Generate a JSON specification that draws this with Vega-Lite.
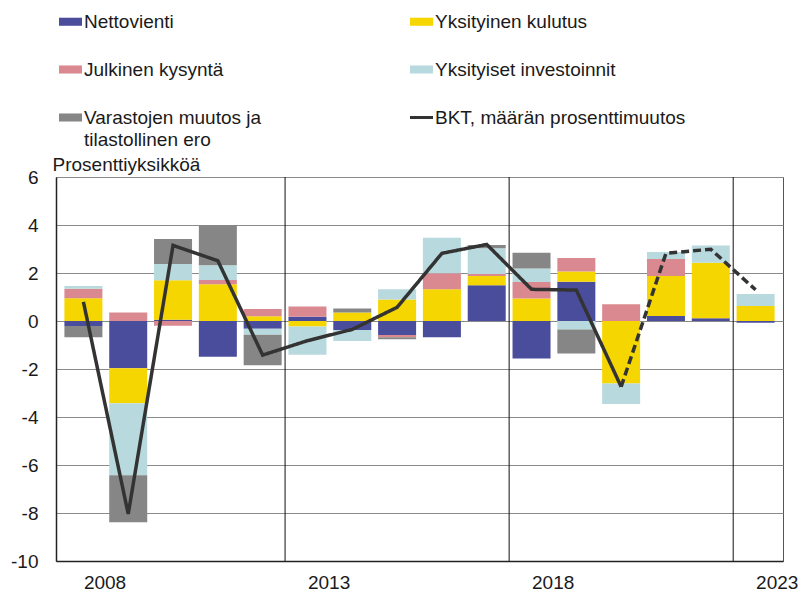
{
  "$schema": "https://vega.github.io/schema/vega-lite/v6.json",
  "width": 727,
  "height": 384,
  "autosize": {"type": "none"},
  "padding": {"left": 56, "top": 177, "right": 22, "bottom": 30},
  "config": {
    "font": "Liberation Sans",
    "view": {"stroke": "#555555", "strokeWidth": 1},
    "axis": {"labelFont": "Liberation Sans", "titleFont": "Liberation Sans", "labelColor": "#1a1a1a", "titleColor": "#1a1a1a"},
    "legend": {"labelFont": "Liberation Sans", "labelColor": "#1a1a1a"}
  },
  "datasets": {
    "osat": [
      {"v": 2008, "s": "Nettovienti", "k": 1, "a": -0.21},
      {"v": 2008, "s": "Yksityinen kulutus", "k": 2, "a": 0.95},
      {"v": 2008, "s": "Julkinen kysyntä", "k": 3, "a": 0.39},
      {"v": 2008, "s": "Yksityiset investoinnit", "k": 4, "a": 0.12},
      {"v": 2008, "s": "Varastojen muutos ja tilastollinen ero", "k": 5, "a": -0.47},
      {"v": 2009, "s": "Nettovienti", "k": 1, "a": -1.97},
      {"v": 2009, "s": "Yksityinen kulutus", "k": 2, "a": -1.46},
      {"v": 2009, "s": "Julkinen kysyntä", "k": 3, "a": 0.35},
      {"v": 2009, "s": "Yksityiset investoinnit", "k": 4, "a": -3.0},
      {"v": 2009, "s": "Varastojen muutos ja tilastollinen ero", "k": 5, "a": -1.96},
      {"v": 2010, "s": "Nettovienti", "k": 1, "a": 0.05},
      {"v": 2010, "s": "Yksityinen kulutus", "k": 2, "a": 1.65},
      {"v": 2010, "s": "Julkinen kysyntä", "k": 3, "a": -0.2},
      {"v": 2010, "s": "Yksityiset investoinnit", "k": 4, "a": 0.67},
      {"v": 2010, "s": "Varastojen muutos ja tilastollinen ero", "k": 5, "a": 1.05},
      {"v": 2011, "s": "Nettovienti", "k": 1, "a": -1.49},
      {"v": 2011, "s": "Yksityinen kulutus", "k": 2, "a": 1.53},
      {"v": 2011, "s": "Julkinen kysyntä", "k": 3, "a": 0.18},
      {"v": 2011, "s": "Yksityiset investoinnit", "k": 4, "a": 0.61},
      {"v": 2011, "s": "Varastojen muutos ja tilastollinen ero", "k": 5, "a": 1.68},
      {"v": 2012, "s": "Nettovienti", "k": 1, "a": -0.32},
      {"v": 2012, "s": "Yksityinen kulutus", "k": 2, "a": 0.2},
      {"v": 2012, "s": "Julkinen kysyntä", "k": 3, "a": 0.3},
      {"v": 2012, "s": "Yksityiset investoinnit", "k": 4, "a": -0.25},
      {"v": 2012, "s": "Varastojen muutos ja tilastollinen ero", "k": 5, "a": -1.27},
      {"v": 2013, "s": "Nettovienti", "k": 1, "a": 0.18},
      {"v": 2013, "s": "Yksityinen kulutus", "k": 2, "a": -0.23},
      {"v": 2013, "s": "Julkinen kysyntä", "k": 3, "a": 0.42},
      {"v": 2013, "s": "Yksityiset investoinnit", "k": 4, "a": -1.18},
      {"v": 2014, "s": "Nettovienti", "k": 1, "a": -0.37},
      {"v": 2014, "s": "Yksityinen kulutus", "k": 2, "a": 0.35},
      {"v": 2014, "s": "Yksityiset investoinnit", "k": 4, "a": -0.46},
      {"v": 2014, "s": "Varastojen muutos ja tilastollinen ero", "k": 5, "a": 0.17},
      {"v": 2015, "s": "Nettovienti", "k": 1, "a": -0.58},
      {"v": 2015, "s": "Yksityinen kulutus", "k": 2, "a": 0.9},
      {"v": 2015, "s": "Julkinen kysyntä", "k": 3, "a": -0.1},
      {"v": 2015, "s": "Yksityiset investoinnit", "k": 4, "a": 0.42},
      {"v": 2015, "s": "Varastojen muutos ja tilastollinen ero", "k": 5, "a": -0.08},
      {"v": 2016, "s": "Nettovienti", "k": 1, "a": -0.68},
      {"v": 2016, "s": "Yksityinen kulutus", "k": 2, "a": 1.32},
      {"v": 2016, "s": "Julkinen kysyntä", "k": 3, "a": 0.67},
      {"v": 2016, "s": "Yksityiset investoinnit", "k": 4, "a": 1.48},
      {"v": 2017, "s": "Nettovienti", "k": 1, "a": 1.49},
      {"v": 2017, "s": "Yksityinen kulutus", "k": 2, "a": 0.39},
      {"v": 2017, "s": "Julkinen kysyntä", "k": 3, "a": 0.08},
      {"v": 2017, "s": "Yksityiset investoinnit", "k": 4, "a": 1.07},
      {"v": 2017, "s": "Varastojen muutos ja tilastollinen ero", "k": 5, "a": 0.14},
      {"v": 2018, "s": "Nettovienti", "k": 1, "a": -1.56},
      {"v": 2018, "s": "Yksityinen kulutus", "k": 2, "a": 0.94},
      {"v": 2018, "s": "Julkinen kysyntä", "k": 3, "a": 0.69},
      {"v": 2018, "s": "Yksityiset investoinnit", "k": 4, "a": 0.56},
      {"v": 2018, "s": "Varastojen muutos ja tilastollinen ero", "k": 5, "a": 0.65},
      {"v": 2019, "s": "Nettovienti", "k": 1, "a": 1.64},
      {"v": 2019, "s": "Yksityinen kulutus", "k": 2, "a": 0.42},
      {"v": 2019, "s": "Julkinen kysyntä", "k": 3, "a": 0.56},
      {"v": 2019, "s": "Yksityiset investoinnit", "k": 4, "a": -0.35},
      {"v": 2019, "s": "Varastojen muutos ja tilastollinen ero", "k": 5, "a": -1.0},
      {"v": 2020, "s": "Yksityinen kulutus", "k": 2, "a": -2.6},
      {"v": 2020, "s": "Julkinen kysyntä", "k": 3, "a": 0.7},
      {"v": 2020, "s": "Yksityiset investoinnit", "k": 4, "a": -0.86},
      {"v": 2021, "s": "Nettovienti", "k": 1, "a": 0.21},
      {"v": 2021, "s": "Yksityinen kulutus", "k": 2, "a": 1.67},
      {"v": 2021, "s": "Julkinen kysyntä", "k": 3, "a": 0.7},
      {"v": 2021, "s": "Yksityiset investoinnit", "k": 4, "a": 0.29},
      {"v": 2022, "s": "Nettovienti", "k": 1, "a": 0.11},
      {"v": 2022, "s": "Yksityinen kulutus", "k": 2, "a": 2.32},
      {"v": 2022, "s": "Yksityiset investoinnit", "k": 4, "a": 0.72},
      {"v": 2023, "s": "Nettovienti", "k": 1, "a": -0.07},
      {"v": 2023, "s": "Yksityinen kulutus", "k": 2, "a": 0.62},
      {"v": 2023, "s": "Yksityiset investoinnit", "k": 4, "a": 0.51}
    ],
    "bkt": [
      {"v": 2008, "b": 0.8, "osa": "toteutunut", "sarja": "BKT, määrän prosenttimuutos"},
      {"v": 2009, "b": -8.04, "osa": "toteutunut", "sarja": "BKT, määrän prosenttimuutos"},
      {"v": 2010, "b": 3.15, "osa": "toteutunut", "sarja": "BKT, määrän prosenttimuutos"},
      {"v": 2011, "b": 2.51, "osa": "toteutunut", "sarja": "BKT, määrän prosenttimuutos"},
      {"v": 2012, "b": -1.42, "osa": "toteutunut", "sarja": "BKT, määrän prosenttimuutos"},
      {"v": 2013, "b": -0.82, "osa": "toteutunut", "sarja": "BKT, määrän prosenttimuutos"},
      {"v": 2014, "b": -0.35, "osa": "toteutunut", "sarja": "BKT, määrän prosenttimuutos"},
      {"v": 2015, "b": 0.57, "osa": "toteutunut", "sarja": "BKT, määrän prosenttimuutos"},
      {"v": 2016, "b": 2.82, "osa": "toteutunut", "sarja": "BKT, määrän prosenttimuutos"},
      {"v": 2017, "b": 3.19, "osa": "toteutunut", "sarja": "BKT, määrän prosenttimuutos"},
      {"v": 2018, "b": 1.32, "osa": "toteutunut", "sarja": "BKT, määrän prosenttimuutos"},
      {"v": 2019, "b": 1.29, "osa": "toteutunut", "sarja": "BKT, määrän prosenttimuutos"},
      {"v": 2020, "b": -2.74, "osa": "toteutunut", "sarja": "BKT, määrän prosenttimuutos"},
      {"v": 2020, "b": -2.74, "osa": "ennuste", "sarja": "BKT, määrän prosenttimuutos"},
      {"v": 2021, "b": 2.82, "osa": "ennuste", "sarja": "BKT, määrän prosenttimuutos"},
      {"v": 2022, "b": 2.99, "osa": "ennuste", "sarja": "BKT, määrän prosenttimuutos"},
      {"v": 2023, "b": 1.3, "osa": "ennuste", "sarja": "BKT, määrän prosenttimuutos"}
    ],
    "rajat": [{"v": 2012.5}, {"v": 2017.5}, {"v": 2022.5}]
  },
  "layer": [
    {
      "data": {"name": "osat"},
      "mark": {"type": "bar", "width": 38},
      "encoding": {
        "x": {
          "field": "v", "type": "quantitative",
          "scale": {"domain": [2007.5, 2023.5], "nice": false, "zero": false},
          "axis": {
            "values": [2008, 2013, 2018, 2023], "format": "d", "title": null,
            "grid": false, "ticks": false, "domain": true, "domainColor": "#222222", "domainWidth": 1.5,
            "labelAlign": "left", "labelDx": -2, "labelPadding": 12, "labelFontSize": 19,
            "labelFlush": false, "labelOverlap": false, "labelBound": false
          }
        },
        "y": {
          "field": "a", "type": "quantitative", "stack": "zero",
          "scale": {"domain": [-10, 6], "nice": false},
          "axis": {
            "values": [-10, -8, -6, -4, -2, 0, 2, 4, 6],
            "labelExpr": "'' + datum.value",
            "grid": true, "gridColor": "#8a8a8a", "gridWidth": 1,
            "ticks": false, "domain": true, "domainColor": "#222222", "domainWidth": 1.5,
            "labelPadding": 18, "labelFontSize": 19,
            "title": "Prosenttiyksikköä", "titleAngle": 0, "titleAlign": "left",
            "titleBaseline": "alphabetic", "titleX": -4, "titleY": -7,
            "titleFontSize": 19, "titleFontWeight": "normal"
          }
        },
        "color": {
          "field": "s", "type": "nominal",
          "scale": {
            "domain": ["Nettovienti", "Yksityinen kulutus", "Julkinen kysyntä", "Yksityiset investoinnit", "Varastojen muutos ja tilastollinen ero", "BKT, määrän prosenttimuutos"],
            "range": ["#4a4d9c", "#f6d600", "#d9898f", "#b8dade", "#868686", "#333333"]
          },
          "legend": {
            "orient": "none", "legendX": 5, "legendY": -165, "direction": "horizontal",
            "columns": 2, "columnPadding": 142, "rowPadding": 28, "padding": 0,
            "title": null, "labelFontSize": 19, "labelLimit": 400, "labelOffset": 4,
            "symbolType": "M-1,-0.35H1V0.35H-1Z", "symbolSize": 529,
            "labelExpr": "datum.label === 'Varastojen muutos ja tilastollinen ero' ? ['Varastojen muutos ja', 'tilastollinen ero'] : datum.label",
            "encode": {
              "symbols": {
                "update": {
                  "shape": {"signal": "datum.value === 'BKT, määrän prosenttimuutos' ? 'M-1,0H1' : 'M-1,-0.35H1V0.35H-1Z'"},
                  "strokeWidth": {"signal": "datum.value === 'BKT, määrän prosenttimuutos' ? 3 : 0"},
                  "fill": {"scale": "color", "field": "value"},
                  "stroke": {"scale": "color", "field": "value"},
                  "opacity": {"value": 1}
                }
              },
              "labels": {
                "update": {"lineHeight": {"value": 22}}
              }
            }
          }
        },
        "order": {"field": "k", "type": "quantitative"}
      }
    },
    {
      "data": {"name": "rajat"},
      "mark": {"type": "rule", "color": "#111111", "strokeWidth": 1},
      "encoding": {"x": {"field": "v", "type": "quantitative"}}
    },
    {
      "data": {"name": "bkt"},
      "mark": {"type": "line", "strokeWidth": 3.5, "strokeJoin": "miter"},
      "encoding": {
        "x": {"field": "v", "type": "quantitative"},
        "y": {"field": "b", "type": "quantitative"},
        "color": {"field": "sarja", "type": "nominal"},
        "strokeDash": {
          "field": "osa", "type": "nominal",
          "scale": {"domain": ["toteutunut", "ennuste"], "range": [[1, 0], [8, 4]]},
          "legend": null
        }
      }
    }
  ]
}
